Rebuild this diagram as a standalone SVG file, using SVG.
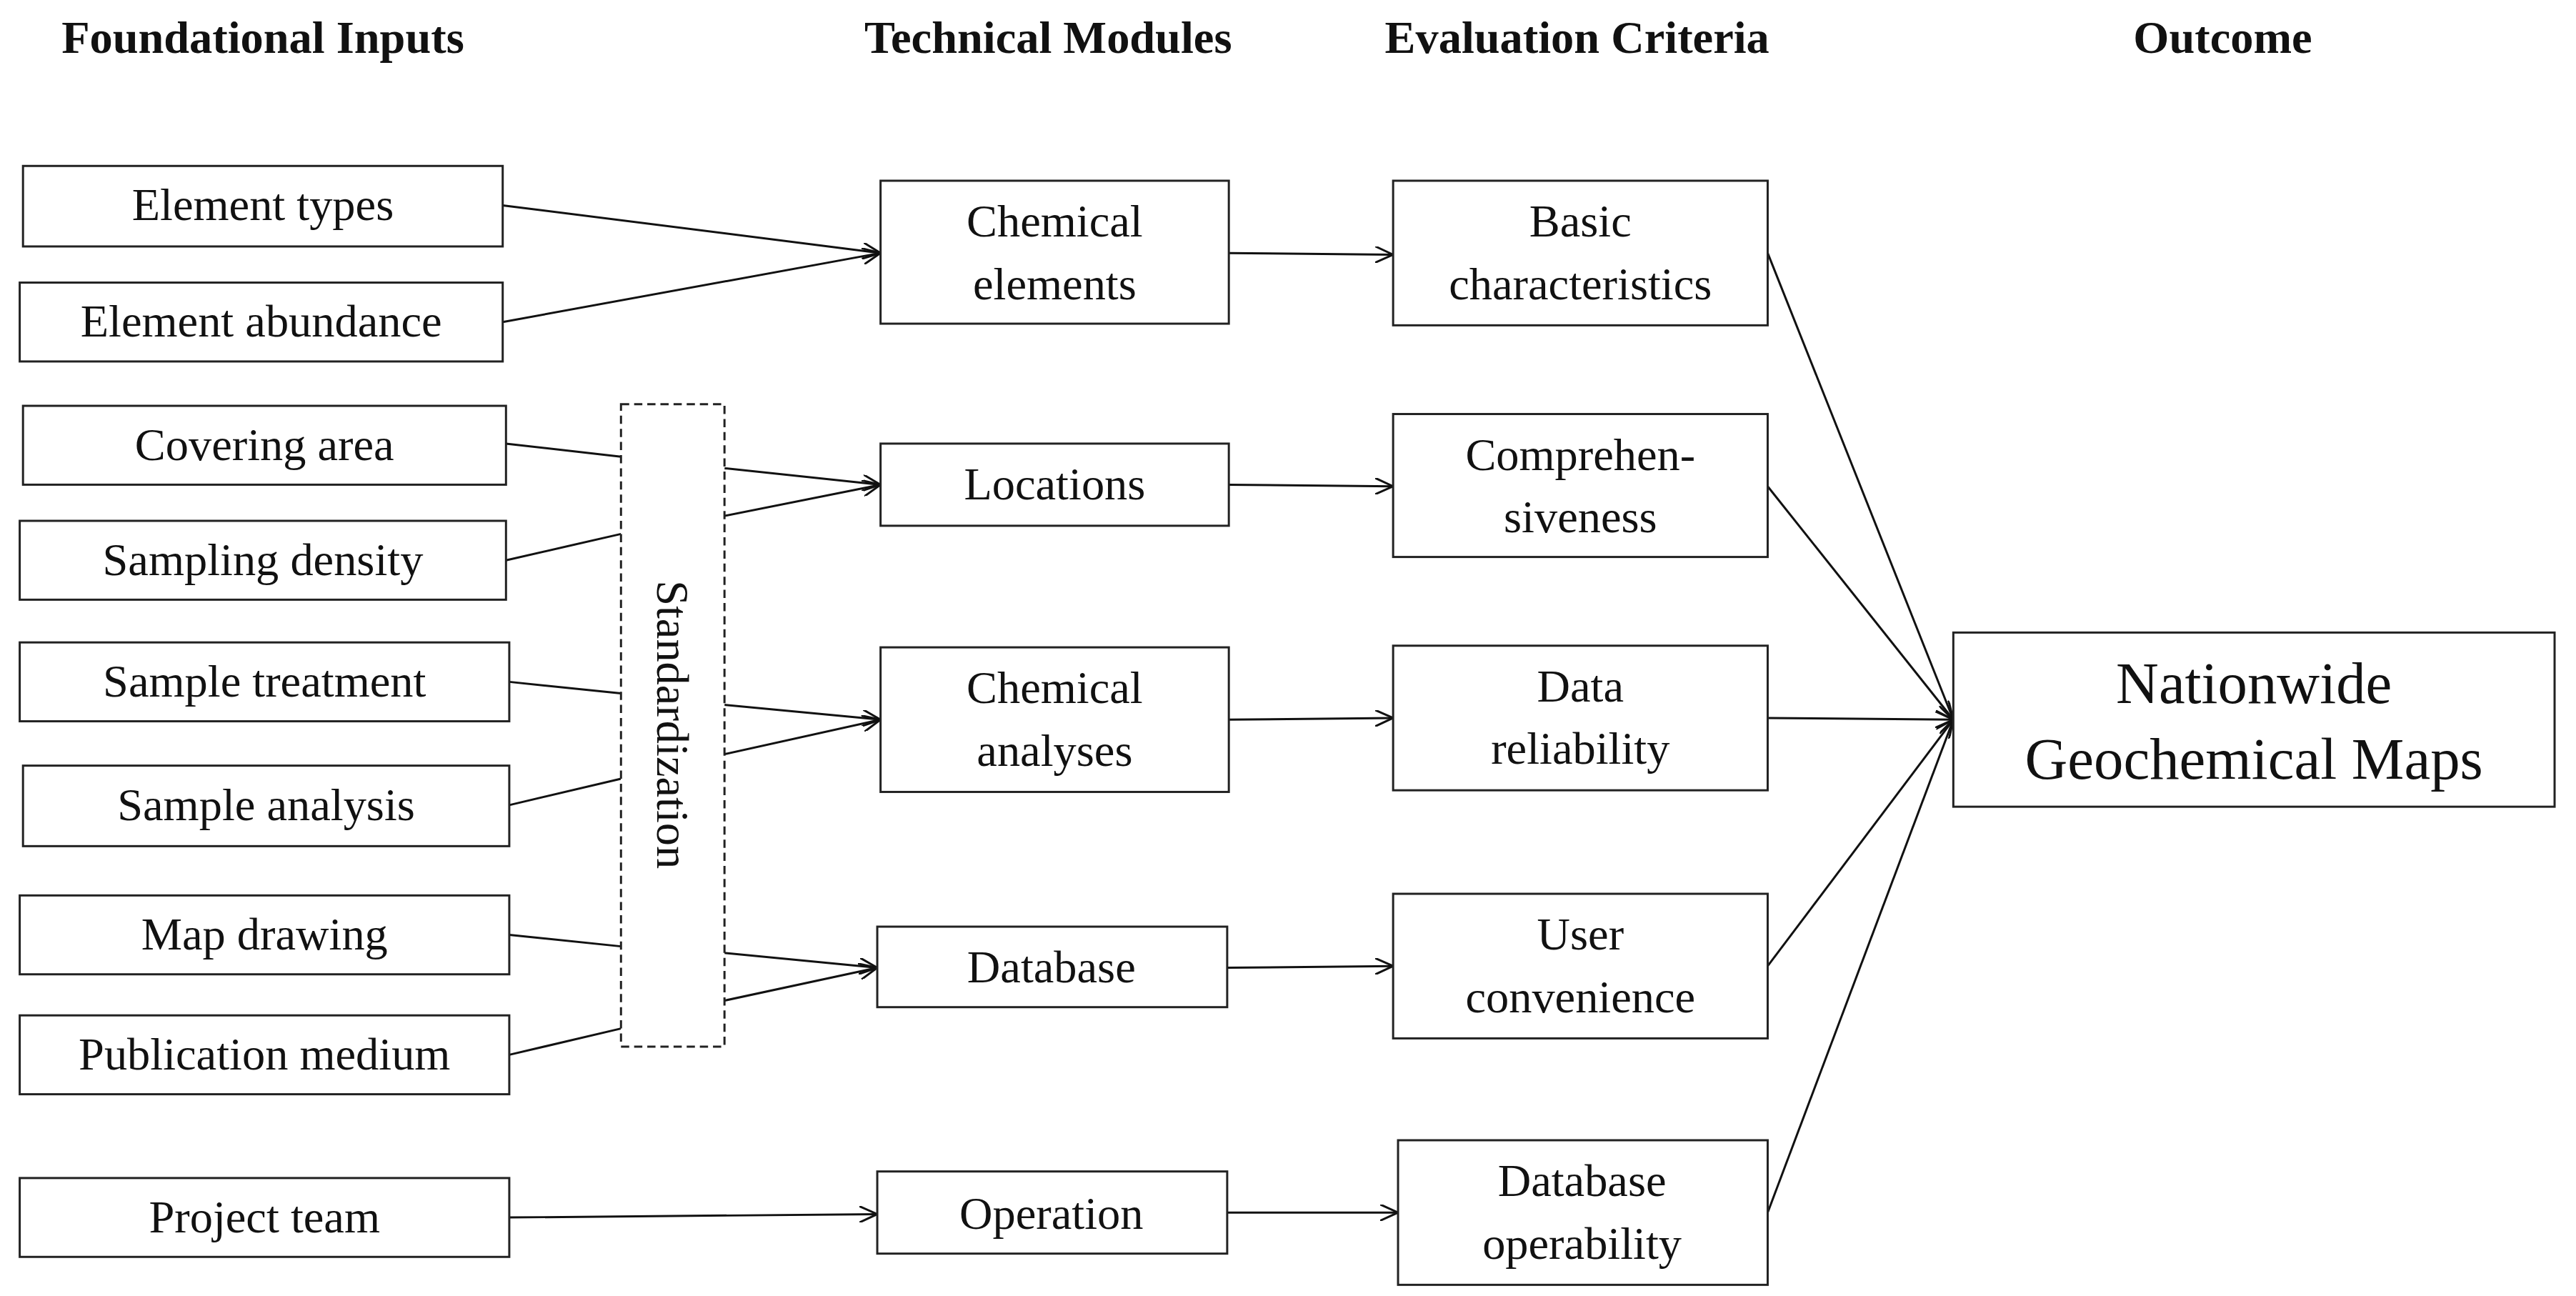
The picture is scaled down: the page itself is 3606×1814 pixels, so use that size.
<svg xmlns="http://www.w3.org/2000/svg" width="3606" height="1814" viewBox="0 0 3606 1814">
<style>
.b{fill:#fff;stroke:#222;stroke-width:1.3}
.t{font-family:"Liberation Serif",serif;font-size:28px;text-anchor:middle;fill:#111}
.h{font-family:"Liberation Serif",serif;font-size:28px;font-weight:bold;text-anchor:middle;fill:#111}
.c line{stroke:#111;stroke-width:1.3}
.a{marker-end:url(#ar)}
</style>
<defs><marker id="ar" viewBox="0 0 12 10" refX="11" refY="5" markerWidth="12" markerHeight="10" markerUnits="userSpaceOnUse" orient="auto"><path d="M0,0 L11,5 L0,10" fill="none" stroke="#111" stroke-width="1.3"/></marker></defs>
<rect width="3606" height="1814" fill="#fff"/>
<g transform="scale(2.2997)">
<g id="headers">
<text class="h" x="160" y="32">Foundational Inputs</text>
<text class="h" x="638" y="32">Technical Modules</text>
<text class="h" x="960" y="32">Evaluation Criteria</text>
<text class="h" x="1353" y="32">Outcome</text>
</g>
<g class="c" id="connectors">
<line class="a" x1="306" y1="125" x2="536" y2="154"/>
<line class="a" x1="306" y1="196" x2="536" y2="154"/>
<line x1="308" y1="270" x2="378" y2="278"/>
<line x1="308" y1="341" x2="378" y2="325"/>
<line class="a" x1="441" y1="285" x2="536" y2="295"/>
<line class="a" x1="441" y1="314" x2="536" y2="295"/>
<line x1="310" y1="415" x2="378" y2="422"/>
<line x1="310" y1="490" x2="378" y2="474"/>
<line class="a" x1="441" y1="429" x2="536" y2="438"/>
<line class="a" x1="441" y1="459" x2="536" y2="438"/>
<line x1="310" y1="569" x2="378" y2="576"/>
<line x1="310" y1="642" x2="378" y2="626"/>
<line class="a" x1="441" y1="580" x2="534" y2="589"/>
<line class="a" x1="441" y1="609" x2="534" y2="589"/>
<line class="a" x1="310" y1="741" x2="534" y2="739"/>
<line class="a" x1="748" y1="154" x2="848" y2="155"/>
<line class="a" x1="748" y1="295" x2="848" y2="296"/>
<line class="a" x1="748" y1="438" x2="848" y2="437"/>
<line class="a" x1="747" y1="589" x2="848" y2="588"/>
<line class="a" x1="747" y1="738" x2="851" y2="738"/>
<line class="a" x1="1076" y1="154" x2="1189" y2="438"/>
<line class="a" x1="1076" y1="296" x2="1189" y2="438"/>
<line class="a" x1="1076" y1="437" x2="1189" y2="438"/>
<line class="a" x1="1076" y1="588" x2="1189" y2="438"/>
<line class="a" x1="1076" y1="738" x2="1189" y2="438"/>
</g>
<g id="in1"><rect class="b" x="14" y="101" width="292" height="49"/><text class="t" x="160" y="134">Element types</text></g>
<g id="in2"><rect class="b" x="12" y="172" width="294" height="48"/><text class="t" x="159" y="205">Element abundance</text></g>
<g id="in3"><rect class="b" x="14" y="247" width="294" height="48"/><text class="t" x="161" y="280">Covering area</text></g>
<g id="in4"><rect class="b" x="12" y="317" width="296" height="48"/><text class="t" x="160" y="350">Sampling density</text></g>
<g id="in5"><rect class="b" x="12" y="391" width="298" height="48"/><text class="t" x="161" y="424">Sample treatment</text></g>
<g id="in6"><rect class="b" x="14" y="466" width="296" height="49"/><text class="t" x="162" y="499">Sample analysis</text></g>
<g id="in7"><rect class="b" x="12" y="545" width="298" height="48"/><text class="t" x="161" y="578">Map drawing</text></g>
<g id="in8"><rect class="b" x="12" y="618" width="298" height="48"/><text class="t" x="161" y="651">Publication medium</text></g>
<g id="in9"><rect class="b" x="12" y="717" width="298" height="48"/><text class="t" x="161" y="750">Project team</text></g>
<g id="std"><rect class="b" x="378" y="246" width="63" height="391" stroke-dasharray="5,3"/><text class="t" transform="translate(400,441) rotate(90)" x="0" y="0">Standardization</text></g>
<g id="m1"><rect class="b" x="536" y="110" width="212" height="87"/><text class="t" x="642" y="144">Chemical</text><text class="t" x="642" y="182">elements</text></g>
<g id="m2"><rect class="b" x="536" y="270" width="212" height="50"/><text class="t" x="642" y="304">Locations</text></g>
<g id="m3"><rect class="b" x="536" y="394" width="212" height="88"/><text class="t" x="642" y="428">Chemical</text><text class="t" x="642" y="466">analyses</text></g>
<g id="m4"><rect class="b" x="534" y="564" width="213" height="49"/><text class="t" x="640" y="598">Database</text></g>
<g id="m5"><rect class="b" x="534" y="713" width="213" height="50"/><text class="t" x="640" y="748">Operation</text></g>
<g id="e1"><rect class="b" x="848" y="110" width="228" height="88"/><text class="t" x="962" y="144">Basic</text><text class="t" x="962" y="182">characteristics</text></g>
<g id="e2"><rect class="b" x="848" y="252" width="228" height="87"/><text class="t" x="962" y="286">Comprehen-</text><text class="t" x="962" y="324">siveness</text></g>
<g id="e3"><rect class="b" x="848" y="393" width="228" height="88"/><text class="t" x="962" y="427">Data</text><text class="t" x="962" y="465">reliability</text></g>
<g id="e4"><rect class="b" x="848" y="544" width="228" height="88"/><text class="t" x="962" y="578">User</text><text class="t" x="962" y="616">convenience</text></g>
<g id="e5"><rect class="b" x="851" y="694" width="225" height="88"/><text class="t" x="963" y="728">Database</text><text class="t" x="963" y="766">operability</text></g>
<g id="out"><rect class="b" x="1189" y="385" width="366" height="106"/><text class="t" style="font-size:36px" x="1372" y="428">Nationwide</text><text class="t" style="font-size:36px" x="1372" y="474">Geochemical Maps</text></g>
</g>
</svg>
